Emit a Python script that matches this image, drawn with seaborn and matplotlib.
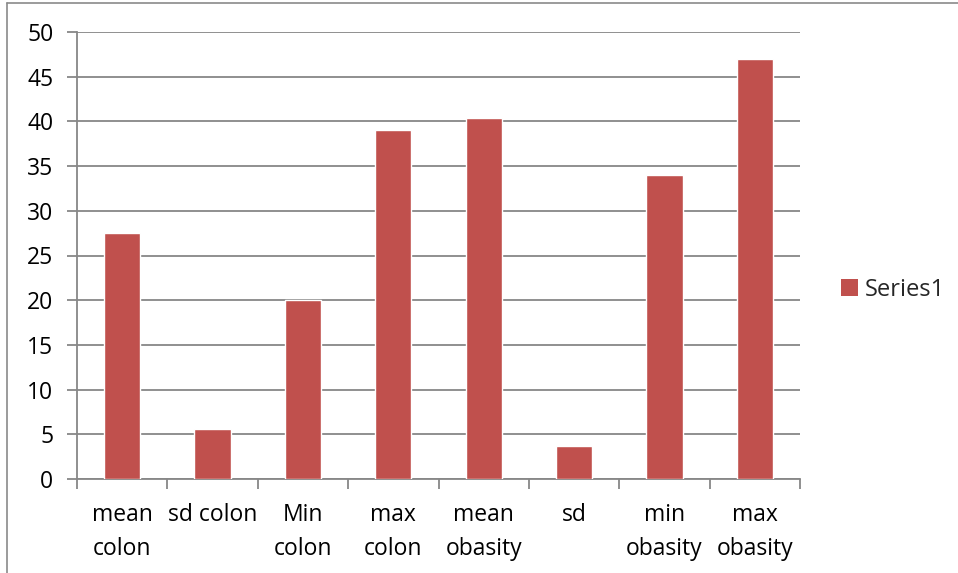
import matplotlib
matplotlib.use("Agg")
import matplotlib.pyplot as plt
from matplotlib.lines import Line2D
from matplotlib.patches import Patch
import seaborn as sns
import pandas as pd
import numpy as np

categories = ["mean\ncolon", "sd colon", "Min\ncolon", "max\ncolon",
              "mean\nobasity", "sd", "min\nobasity", "max\nobasity"]
values = [27.5, 5.6, 20.0, 39.0, 40.4, 3.7, 34.0, 47.0]
series_name = "Series1"
y_ticks = list(range(0, 55, 5))

bar_color = "#C0504D"
grid_color = "#878787"

sns.set_theme(style="white")
plt.rcParams["font.family"] = ["Open Sans", "DejaVu Sans"]

df = pd.DataFrame({"label": categories, "value": values})

W, H = 958, 573
fig = plt.figure(figsize=(W / 100, H / 100), dpi=100)
ax = fig.add_axes([77 / W, 1 - 479 / H, (800 - 77) / W, (479 - 32) / H])

sns.barplot(data=df, x="label", y="value", color=bar_color, width=0.4,
            saturation=1, ax=ax, zorder=3)

ax.set_ylim(0, 50)
ax.set_xlim(-0.5, len(categories) - 0.5)
ax.set_yticks(y_ticks)
ax.set_yticklabels([str(t) for t in y_ticks])
ax.yaxis.grid(True, color=grid_color, linewidth=1.3, zorder=0)
ax.set_axisbelow(True)

# category labels on major ticks, tick marks on the boundaries
ax.set_xticks(np.arange(len(categories)))
ax.set_xticklabels(categories, linespacing=1.6)
ax.set_xticks(np.arange(len(categories) + 1) - 0.5, minor=True)
ax.tick_params(axis="x", which="major", length=0, pad=17, labelsize=16.5,
               labelcolor="black")
ax.tick_params(axis="x", which="minor", length=7, width=1.3,
               color=grid_color, direction="out", bottom=True)
ax.tick_params(axis="y", which="major", length=7, width=1.3,
               color=grid_color, direction="out", left=True, pad=10,
               labelsize=16.5, labelcolor="black")

ax.set_xlabel("")
ax.set_ylabel("")
for side in ("top", "right"):
    ax.spines[side].set_visible(False)
for side in ("left", "bottom"):
    ax.spines[side].set_color(grid_color)
    ax.spines[side].set_linewidth(1.3)

handles = [Patch(facecolor=bar_color, edgecolor="none", label=series_name)]
fig.legend(handles=handles, loc="center left",
           bbox_to_anchor=(841 / W, 1 - 290 / H), frameon=False,
           fontsize=17, handlelength=0.7, handleheight=0.7,
           handletextpad=0.3, borderpad=0, borderaxespad=0)

# chart frame
fig.add_artist(Line2D([7 / W, 7 / W], [0, 1 - 3 / H], color="#8a8a8a",
                      linewidth=1.2, transform=fig.transFigure))
fig.add_artist(Line2D([7 / W, 1], [1 - 3 / H, 1 - 3 / H], color="#8a8a8a",
                      linewidth=1.2, transform=fig.transFigure))

fig.savefig("out.png", dpi=100, facecolor="white")
